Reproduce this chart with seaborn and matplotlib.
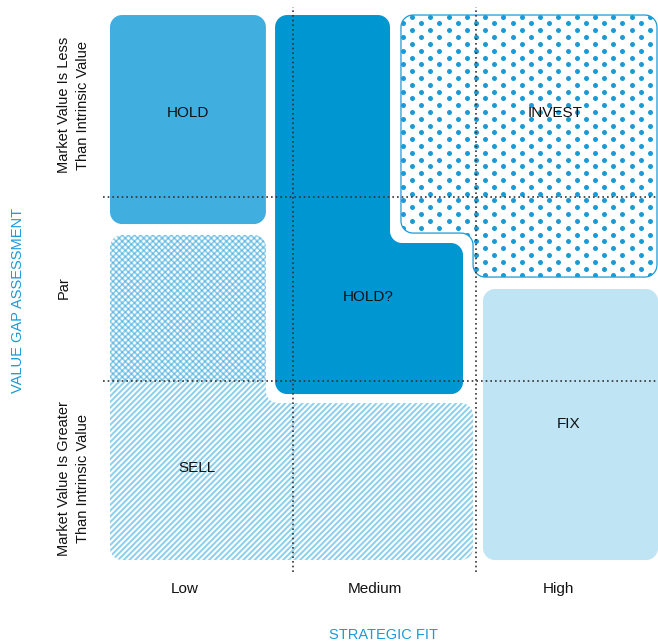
import numpy as np
import matplotlib
matplotlib.use("Agg")
import matplotlib.pyplot as plt
import seaborn as sns
from matplotlib.patches import Polygon
from matplotlib.collections import LineCollection

sns.set_theme(style="white")
plt.rcParams["font.family"] = ["Liberation Sans", "DejaVu Sans"]

# ---------------- data ----------------
x_categories = ["Low", "Medium", "High"]
x_tick_pos = [0.41, 1.45, 2.45]
y_categories = ["Market Value Is Greater\nThan Intrinsic Value", "Par",
                "Market Value Is Less\nThan Intrinsic Value"]
y_tick_pos = [0.47, 1.51, 2.50]
x_title = "STRATEGIC FIT"
y_title = "VALUE GAP ASSESSMENT"
grid_breaks = [1, 2]

# region outlines in matrix units (x: strategic fit 0-3, y: value gap 0-3)
hold_verts = [(0, 2.989), (0.852, 2.989), (0.852, 1.853), (0, 1.853)]
par_verts = [(0, 1.793), (0.852, 1.793), (0.852, 1.0), (0, 1.0)]
holdq_verts = [(0.902, 2.989), (1.530, 2.989), (1.530, 1.75), (1.929, 1.75),
               (1.929, 0.929), (0.902, 0.929)]
invest_verts = [(1.590, 2.989), (2.989, 2.989), (2.989, 1.565), (1.984, 1.565),
                (1.984, 1.804), (1.590, 1.804)]
sell_verts = [(0, 1.0), (0.852, 1.0), (0.852, 0.880), (1.984, 0.880),
              (1.984, 0.027), (0, 0.027)]
fix_verts = [(2.038, 1.5), (2.995, 1.5), (2.995, 0.027), (2.038, 0.027)]

region_labels = ["HOLD", "HOLD?", "INVEST", "SELL", "FIX"]
label_x = [0.426, 1.410, 2.432, 0.475, 2.508]
label_y = [2.457, 1.457, 2.457, 0.527, 0.766]

# ---------------- helpers ----------------
R = 0.066


def rounded(verts, radii, n=14):
    v = np.asarray(verts, float)
    m = len(v)
    pts = []
    for i in range(m):
        p, a, b = v[i], v[i - 1], v[(i + 1) % m]
        r = radii[i]
        if r <= 0:
            pts.append(p)
            continue
        u1 = (a - p) / np.linalg.norm(a - p)
        u2 = (b - p) / np.linalg.norm(b - p)
        s = p + r * u1
        e = p + r * u2
        c = p + r * u1 + r * u2
        a0 = np.arctan2(s[1] - c[1], s[0] - c[0])
        a1 = np.arctan2(e[1] - c[1], e[0] - c[0])
        d = (a1 - a0 + np.pi) % (2 * np.pi) - np.pi
        ang = a0 + d * np.linspace(0, 1, n)
        pts.extend(np.c_[c[0] + r * np.cos(ang), c[1] + r * np.sin(ang)])
    return np.array(pts)


def diag_lines(spacing, sign, x0=-0.2, x1=3.2):
    segs = []
    for c in np.arange(-3.5, 3.5, spacing):
        segs.append([(x0, sign * x0 + c), (x1, sign * x1 + c)])
    return segs


# ---------------- figure ----------------
fig = plt.figure(figsize=(6.58, 6.44), dpi=100)
ax = fig.add_axes([110 / 658, (644 - 565) / 644, 549 / 658, 552 / 644])
ax.set_xlim(0, 3)
ax.set_ylim(0, 3)
sns.despine(ax=ax, left=True, bottom=True)
ax.grid(False)
ax.set_facecolor("white")

# HOLD (solid medium blue)
ax.add_patch(Polygon(rounded(hold_verts, [R] * 4), closed=True,
                     facecolor="#41aee0", edgecolor="none", zorder=2))

# PAR (cross hatch)
par_patch = Polygon(rounded(par_verts, [R, R, 0, 0]), closed=True,
                    facecolor="white", edgecolor="none", zorder=2)
ax.add_patch(par_patch)
for sgn in (1, -1):
    lc = LineCollection(diag_lines(0.0335, sgn),
                        colors="#2aa3dc", linewidths=1.3, alpha=0.5, zorder=3)
    ax.add_collection(lc)
    lc.set_clip_path(par_patch)

# HOLD? (solid dark blue)
ax.add_patch(Polygon(rounded(holdq_verts, [R] * 6), closed=True,
                     facecolor="#0096d2", edgecolor="none", zorder=2))

# INVEST (dots with outline)
inv_patch = Polygon(rounded(invest_verts, [R] * 6), closed=True,
                    facecolor="white", edgecolor="#1b9ad6", linewidth=0.9,
                    zorder=2)
ax.add_patch(inv_patch)
dx, dy = 0.1, 0.037
pts = []
for k, yy in enumerate(np.arange(1.5, 3.05, dy)):
    off = 0 if k % 2 == 0 else dx / 2
    for xx in np.arange(1.55 + off, 3.05, dx):
        pts.append((xx, yy))
pts = np.array(pts)
sc = ax.scatter(pts[:, 0], pts[:, 1], s=13, color="#1b9ad6", linewidths=0,
                zorder=3)
sc.set_clip_path(inv_patch)

# SELL (diagonal stripes)
sell_patch = Polygon(rounded(sell_verts, [0, 0, R, R, R, R]), closed=True,
                     facecolor="white", edgecolor="none", zorder=2)
ax.add_patch(sell_patch)
lc = LineCollection(diag_lines(0.0311, 1), colors="#8dd0ee", linewidths=1.45,
                    zorder=3)
ax.add_collection(lc)
lc.set_clip_path(sell_patch)

# FIX (light blue)
ax.add_patch(Polygon(rounded(fix_verts, [R] * 4), closed=True,
                     facecolor="#bfe4f4", edgecolor="none", zorder=2))

# dotted grid lines
for b in grid_breaks:
    ax.plot([b, b], [-0.038, 3.033], color="#333333", lw=1.2,
            ls=(0, (1, 1.8)), zorder=5, clip_on=False)
    ax.plot([-0.038, 2.995], [b, b], color="#333333", lw=1.2,
            ls=(0, (1, 1.8)), zorder=5, clip_on=False)

# region labels
for t, xx, yy in zip(region_labels, label_x, label_y):
    ax.text(xx, yy, t, ha="center", va="center", fontsize=11,
            color="#111111", zorder=6)

# x ticks
ax.set_xticks(x_tick_pos)
ax.set_xticklabels(x_categories, fontsize=11, color="#111111")
ax.tick_params(axis="x", length=0, pad=12.5)
ax.set_yticks([])

# y category labels (rotated)
for t, yy in zip(y_categories, y_tick_pos):
    ax.text(-0.29, yy, t, rotation=90, ha="left", va="center",
            multialignment="center", fontsize=10.5, color="#111111",
            linespacing=1.45, clip_on=False)

# axis titles
ax.text(1.492, -0.378, x_title, ha="center", va="center", fontsize=10.5,
        color="#1a9bd7", clip_on=False)
ax.text(-0.503, 1.440, y_title, ha="center", va="center", rotation=90,
        fontsize=10.5, color="#1a9bd7", clip_on=False)

fig.savefig("out.png", dpi=100)
